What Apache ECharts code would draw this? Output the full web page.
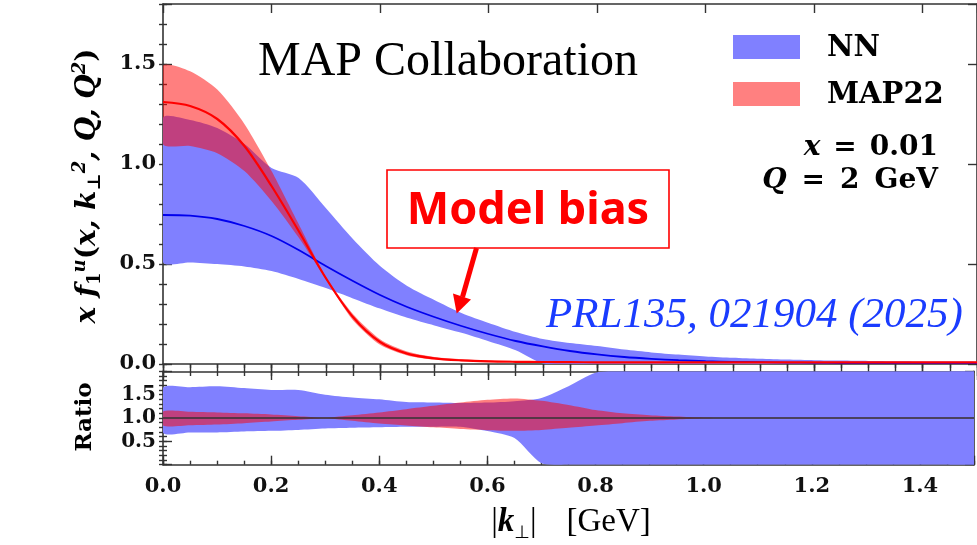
<!DOCTYPE html>
<html>
<head>
<meta charset="utf-8">
<script src="https://cdn.jsdelivr.net/npm/echarts@6/dist/echarts.min.js"></script>
<style>
  html, body { margin: 0; padding: 0; background: #fff; }
  #chart { width: 977px; height: 545px; }
</style>
</head>
<body>
<div id="chart"></div>
<script>
// transverse momentum grid (GeV), top panel
const kF = [0, 0.05, 0.1, 0.15, 0.2, 0.25, 0.3, 0.35, 0.4, 0.45, 0.5, 0.55, 0.6, 0.65, 0.7, 0.75,
  0.8, 0.85, 0.9, 0.95, 1.0, 1.05, 1.1, 1.15, 1.2, 1.25, 1.3, 1.35, 1.4, 1.45, 1.5];

// NN: central, upper, lower
const nnMid = [0.745, 0.742, 0.725, 0.69, 0.64, 0.57, 0.49, 0.415, 0.345, 0.285, 0.235, 0.19, 0.15, 0.115, 0.088, 0.065,
  0.048, 0.035, 0.026, 0.019, 0.014, 0.011, 0.009, 0.007, 0.006, 0.005, 0.005, 0.004, 0.004, 0.004, 0.004];
const nnHi = [1.23, 1.22, 1.18, 1.10, 0.98, 0.93, 0.78, 0.625, 0.49, 0.39, 0.32, 0.255, 0.205, 0.16, 0.125, 0.105,
  0.09, 0.072, 0.058, 0.047, 0.038, 0.031, 0.026, 0.022, 0.019, 0.017, 0.015, 0.014, 0.013, 0.012, 0.011];
const nnLo = [0.51, 0.508, 0.50, 0.488, 0.465, 0.425, 0.38, 0.328, 0.277, 0.231, 0.193, 0.156, 0.114, 0.069, 0.003, 0,
  0, 0, 0, 0, 0, 0, 0, 0, 0, 0, 0, 0, 0, 0, 0];

// MAP22: central, upper, lower
const mapMid = [1.31, 1.29, 1.225, 1.09, 0.89, 0.665, 0.43, 0.235, 0.11, 0.052, 0.028, 0.018, 0.013, 0.011, 0.010, 0.009,
  0.0085, 0.0083, 0.0082, 0.0081, 0.008, 0.008, 0.008, 0.008, 0.008, 0.008, 0.008, 0.008, 0.008, 0.008, 0.008];
const mapHi = [1.49, 1.464, 1.372, 1.20, 0.965, 0.70, 0.436, 0.25, 0.124, 0.062, 0.035, 0.0236, 0.0178, 0.0155, 0.0137, 0.0115,
  0.0099, 0.0091, 0.0087, 0.0083, 0.0081, 0.0081, 0.0081, 0.0081, 0.0081, 0.0081, 0.0081, 0.0081, 0.0081, 0.0081, 0.0081];
const mapLo = [1.10, 1.09, 1.054, 0.965, 0.815, 0.632, 0.424, 0.219, 0.096, 0.043, 0.022, 0.0135, 0.0094, 0.0078, 0.0074, 0.0071,
  0.0071, 0.0074, 0.0077, 0.0079, 0.0079, 0.0079, 0.0079, 0.0079, 0.0079, 0.0079, 0.0079, 0.0079, 0.0079, 0.0079, 0.0079];

// ratio panel grid
const kR = [0, 0.05, 0.1, 0.15, 0.2, 0.25, 0.3, 0.35, 0.4, 0.45, 0.5, 0.55, 0.6, 0.65, 0.7, 0.75,
  0.8, 0.85, 0.9, 0.95, 1.0, 1.05, 1.1, 1.15, 1.2, 1.25, 1.3, 1.35, 1.4, 1.45, 1.5];
const nnRatioHi = [1.65, 1.66, 1.68, 1.64, 1.60, 1.60, 1.50, 1.44, 1.40, 1.34, 1.33, 1.32, 1.33, 1.36, 1.43, 1.68,
  1.97, 2, 2, 2, 2, 2, 2, 2, 2, 2, 2, 2, 2, 2, 2];
const nnRatioLo = [0.685, 0.688, 0.69, 0.71, 0.725, 0.745, 0.775, 0.79, 0.80, 0.81, 0.815, 0.815, 0.72, 0.57, 0.03, 0,
  0, 0, 0, 0, 0, 0, 0, 0, 0, 0, 0, 0, 0, 0, 0];
const mapRatioHi = [1.14, 1.135, 1.12, 1.10, 1.075, 1.04, 1.01, 1.06, 1.12, 1.19, 1.26, 1.33, 1.39, 1.42, 1.37, 1.28,
  1.17, 1.10, 1.06, 1.03, 1.01, 1.005, 1.005, 1.005, 1.005, 1.005, 1.005, 1.005, 1.005, 1.005, 1.005];
const mapRatioLo = [0.84, 0.845, 0.86, 0.89, 0.925, 0.96, 0.99, 0.94, 0.88, 0.84, 0.80, 0.765, 0.74, 0.725, 0.745, 0.79,
  0.84, 0.89, 0.94, 0.97, 0.99, 0.995, 0.995, 0.995, 0.995, 0.995, 0.995, 0.995, 0.995, 0.995, 0.995];

const yTicksTop = [0.0, 0.5, 1.0, 1.5];
const yTicksRatio = [0.5, 1.0, 1.5];
const xTicks = [0.0, 0.2, 0.4, 0.6, 0.8, 1.0, 1.2, 1.4];

const BLUE_BAND = '#8080ff';
const RED_BAND = 'rgba(255,0,0,0.5)';
const AX = '#333';
const NUM_FONT = 'DejaVu Serif';

const chart = echarts.init(document.getElementById('chart'));

const near = (v, list) => list.some(t => Math.abs(t - v) < 1e-6);

function xAxis(grid, pos, interval, len, inside, opts) {
  return Object.assign({
    type: 'value', gridIndex: grid, position: pos, min: 0, max: 1.5, interval: interval,
    axisLine: { show: true, onZero: false, lineStyle: { color: AX, width: 1.6 } },
    axisTick: { show: true, inside: inside, length: len, lineStyle: { color: AX, width: 1.4 } },
    axisLabel: { show: false },
    splitLine: { show: false }
  }, opts || {});
}

function yAxis(grid, pos, min, max, interval, len, opts) {
  return Object.assign({
    type: 'value', gridIndex: grid, position: pos, min: min, max: max, interval: interval,
    axisLine: { show: true, onZero: false, lineStyle: { color: AX, width: 1.6 } },
    axisTick: { show: true, inside: true, length: len, lineStyle: { color: AX, width: 1.4 } },
    axisLabel: { show: false },
    splitLine: { show: false }
  }, opts || {});
}

const numLabel = {
  show: true, color: '#111', fontFamily: NUM_FONT, fontWeight: 'bold', fontSize: 21
};

// uncertainty band: one polygon through the axis scales (upper edge, then lower edge back)
function band(name, xs, lo, hi, color, xi, yi) {
  return {
    name: name, type: 'custom', xAxisIndex: xi, yAxisIndex: yi, silent: true, clip: true,
    data: xs.map((k, i) => [k, lo[i], hi[i]]),
    encode: { x: 0, y: [1, 2] },
    renderItem: function (params, api) {
      if (params.dataIndex !== 0) return null;
      const up = xs.map((k, i) => api.coord([k, hi[i]]));
      const dn = xs.map((k, i) => api.coord([k, lo[i]])).reverse();
      return {
        type: 'polygon',
        shape: { points: up.concat(dn), smooth: 0.25 },
        style: { fill: color }
      };
    }
  };
}

const mathRich = (size, gap) => ({
  i: { fontFamily: NUM_FONT, fontStyle: 'italic', fontWeight: 'bold', fontSize: size },
  r: { fontFamily: NUM_FONT, fontWeight: 'bold', fontSize: size },
  s: { fontSize: size, width: gap }
});

const option = {
  animation: false,
  grid: [
    { left: 163, top: 4, width: 818.5, height: 360 },
    { left: 163, top: 371.3, width: 818.5, height: 93.4 }
  ],
  xAxis: [
    xAxis(0, 'bottom', 0.2, 16, false),
    xAxis(0, 'bottom', 0.05, 12, false, { axisLine: { show: false } }),
    xAxis(0, 'top', 0.2, 9, true),
    xAxis(0, 'top', 0.05, 4, true, { axisLine: { show: false } }),
    xAxis(1, 'bottom', 0.2, 9, true, {
      axisLabel: Object.assign({}, numLabel, {
        margin: 11,
        formatter: v => near(v, xTicks) ? v.toFixed(1) : ''
      })
    }),
    xAxis(1, 'bottom', 0.05, 4, true, { axisLine: { show: false } }),
    xAxis(1, 'top', 0.2, 0, true, { axisTick: { show: false } })
  ],
  yAxis: [
    yAxis(0, 'left', 0, 1.8, 0.5, 9, {
      axisLabel: Object.assign({}, numLabel, {
        margin: 7,
        formatter: v => near(v, yTicksTop) ? v.toFixed(1) : ''
      })
    }),
    yAxis(0, 'left', 0, 1.8, 0.1, 4, { axisLine: { show: false } }),
    yAxis(0, 'right', 0, 1.8, 0.5, 9),
    yAxis(0, 'right', 0, 1.8, 0.1, 4, { axisLine: { show: false } }),
    yAxis(1, 'left', 0, 2, 0.5, 9, {
      axisLabel: Object.assign({}, numLabel, {
        margin: 7, fontSize: 20,
        formatter: v => near(v, yTicksRatio) ? v.toFixed(1) : ''
      })
    }),
    yAxis(1, 'left', 0, 2, 0.1, 4, { axisLine: { show: false } }),
    yAxis(1, 'right', 0, 2, 0.5, 9),
    yAxis(1, 'right', 0, 2, 0.1, 4, { axisLine: { show: false } })
  ],
  series: [
    band('NN', kF, nnLo, nnHi, BLUE_BAND, 0, 0),
    band('MAP22', kF, mapLo, mapHi, RED_BAND, 0, 0),
    {
      name: 'NN central', type: 'line', xAxisIndex: 0, yAxisIndex: 0, smooth: 0.3,
      data: kF.map((k, i) => [k, nnMid[i]]), showSymbol: false,
      lineStyle: { color: '#0000ee', width: 1.8 }, silent: true
    },
    {
      name: 'MAP22 central', type: 'line', xAxisIndex: 0, yAxisIndex: 0, smooth: 0.3,
      data: kF.map((k, i) => [k, mapMid[i]]), showSymbol: false,
      lineStyle: { color: '#ff0000', width: 2.2 }, silent: true
    },
    band('NN ratio', kR, nnRatioLo, nnRatioHi, BLUE_BAND, 4, 4),
    band('MAP22 ratio', kR, mapRatioLo, mapRatioHi, RED_BAND, 4, 4),
    {
      name: 'one', type: 'line', xAxisIndex: 4, yAxisIndex: 4, data: [], silent: true,
      markLine: {
        silent: true, symbol: 'none', label: { show: false },
        lineStyle: { color: '#333', width: 1.5, type: 'solid' },
        data: [{ yAxis: 1 }]
      }
    }
  ],
  graphic: [
    {
      type: 'text', x: 88, y: 186, rotation: Math.PI / 2, z: 100,
      style: {
        text: '{i|x f}{sub|1}{sup|u}{r|(}{i|x, k}{sub|⊥}{sup|2}{i|, Q, Q}{sup|2}{r|)}',
        align: 'center', verticalAlign: 'middle', fill: '#000',
        rich: {
          i: { fontFamily: NUM_FONT, fontStyle: 'italic', fontWeight: 'bold', fontSize: 28, lineHeight: 33 },
          r: { fontFamily: NUM_FONT, fontWeight: 'bold', fontSize: 28, lineHeight: 33 },
          sup: { fontFamily: NUM_FONT, fontStyle: 'italic', fontWeight: 'bold', fontSize: 18, verticalAlign: 'top', lineHeight: 19 },
          sub: { fontFamily: NUM_FONT, fontWeight: 'bold', fontSize: 18, verticalAlign: 'bottom', lineHeight: 19 }
        }
      }
    },
    {
      type: 'text', x: 85, y: 417, rotation: Math.PI / 2, z: 100,
      style: { text: 'Ratio', font: 'bold 23px "DejaVu Serif"', fill: '#000', align: 'center', verticalAlign: 'middle' }
    },
    {
      type: 'text', x: 571, y: 522, z: 100,
      style: {
        text: '{r||}{k|k}{sub|⊥}{r||}{sp| }{r|[GeV]}',
        align: 'center', verticalAlign: 'middle', fill: '#000',
        rich: {
          r: { fontFamily: 'Liberation Serif', fontSize: 33, lineHeight: 40 },
          k: { fontFamily: 'Liberation Serif', fontStyle: 'italic', fontWeight: 'bold', fontSize: 33, lineHeight: 40 },
          sub: { fontFamily: 'DejaVu Sans', fontSize: 18, verticalAlign: 'bottom', lineHeight: 20 },
          sp: { fontSize: 33, width: 30 }
        }
      }
    },
    {
      type: 'text', x: 258, y: 62, z: 100,
      style: { text: 'MAP Collaboration', font: '48px "Liberation Serif"', fill: '#000', align: 'left', verticalAlign: 'middle' }
    },
    { type: 'rect', z: 100, shape: { x: 733, y: 35, width: 67, height: 24 }, style: { fill: BLUE_BAND } },
    { type: 'rect', z: 100, shape: { x: 733, y: 82, width: 67, height: 24 }, style: { fill: '#ff8080' } },
    {
      type: 'text', x: 827, y: 48, z: 100,
      style: { text: 'NN', font: 'bold 29px "DejaVu Serif"', fill: '#000', align: 'left', verticalAlign: 'middle' }
    },
    {
      type: 'text', x: 827, y: 95, z: 100,
      style: { text: 'MAP22', font: 'bold 29px "DejaVu Serif"', fill: '#000', align: 'left', verticalAlign: 'middle' }
    },
    {
      type: 'text', x: 938, y: 148, z: 100,
      style: {
        text: '{i|x}{s| }{r|=}{s| }{r|0.01}', align: 'right', verticalAlign: 'middle', fill: '#000',
        rich: mathRich(28, 13)
      }
    },
    {
      type: 'text', x: 938, y: 181, z: 100,
      style: {
        text: '{i|Q}{s| }{r|=}{s| }{r|2}{s| }{r|GeV}', align: 'right', verticalAlign: 'middle', fill: '#000',
        rich: mathRich(28, 15)
      }
    },
    {
      type: 'rect', z: 100, shape: { x: 387, y: 170, width: 282, height: 78 },
      style: { fill: '#fff', stroke: '#ff0000', lineWidth: 1.6 }
    },
    {
      type: 'text', x: 528, y: 211, z: 101,
      style: { text: 'Model bias', font: 'bold 45px "Noto Sans"', fill: '#ff0000', align: 'center', verticalAlign: 'middle' }
    },
    {
      type: 'line', z: 100, shape: { x1: 476.5, y1: 248, x2: 462.5, y2: 297 },
      style: { stroke: '#ff0000', lineWidth: 5 }
    },
    {
      type: 'polygon', z: 100, shape: { points: [[456.7, 313.5], [471, 299.5], [453, 293.5]] },
      style: { fill: '#ff0000' }
    },
    {
      type: 'text', x: 546, y: 316, z: 100,
      style: { text: 'PRL135, 021904 (2025)', font: 'italic 43px "Liberation Serif"', fill: '#1a3cff', align: 'left', verticalAlign: 'middle' }
    }
  ]
};

chart.setOption(option);
window.onresize = function () { chart.resize(); };
</script>
</body>
</html>
